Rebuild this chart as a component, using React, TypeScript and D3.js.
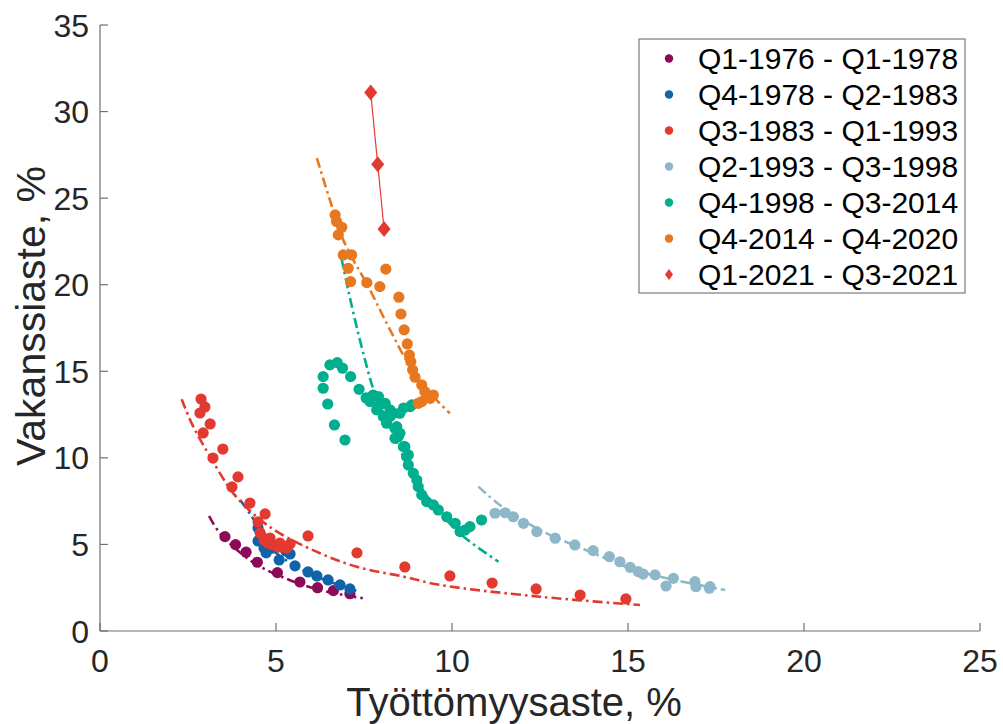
import React from "react";
import * as d3 from "d3";

type P = [number, number];

// ---- Data (unemployment %, vacancy rate %) ----
const s1976: P[] = [
  [3.55, 5.45], [3.85, 4.99], [4.15, 4.55], [4.47, 3.97], [5.04, 3.37],
  [5.68, 2.83], [6.18, 2.5], [6.63, 2.33], [7.1, 2.15],
];
const fit1976: P[] = [[3.1, 6.64], [3.41, 5.64], [4.36, 3.95], [5.3, 3.02], [6.25, 2.37], [7.48, 1.89]];

const s1978: P[] = [
  [4.49, 5.95], [4.6, 5.43], [4.49, 5.2], [4.66, 4.79], [4.72, 4.51], [4.89, 4.79],
  [5.09, 4.1], [5.28, 4.62], [5.4, 4.45], [5.54, 3.76], [5.91, 3.41], [6.16, 3.18],
  [6.48, 2.95], [6.82, 2.66], [7.1, 2.43],
];
const fit1978: P[] = [[3.98, 7.57], [4.32, 6.59], [4.77, 4.97], [5.4, 3.93], [6.25, 3.06], [7.3, 2.31]];

const s1983: P[] = [
  [4.55, 5.66], [4.66, 5.26], [4.77, 5.08], [4.91, 4.97], [5.06, 4.85], [5.2, 4.85],
  [5.31, 4.79], [5.4, 5.03], [5.11, 5.08], [4.83, 5.37], [4.49, 6.3], [4.69, 6.76],
  [4.26, 7.39], [3.75, 8.32], [3.92, 8.9], [3.21, 9.99], [3.49, 10.51], [2.93, 11.44],
  [3.13, 11.96], [2.84, 12.59], [2.98, 12.94], [2.87, 13.4], [5.91, 5.49], [7.3, 4.51],
  [8.66, 3.7], [9.94, 3.18], [11.14, 2.77], [12.39, 2.43], [13.64, 2.08], [14.94, 1.85],
];
const fit1983: P[] = [
  [2.32, 13.39], [2.65, 11.8], [3.13, 10.07], [3.79, 7.95], [4.45, 6.6], [5.11, 5.64],
  [6.25, 4.49], [7.29, 3.71], [8.62, 3.14], [9.66, 2.66], [12.5, 1.98], [15.34, 1.5],
];

const s1993: P[] = [
  [11.22, 6.8], [11.51, 6.83], [11.74, 6.6], [12.03, 6.22], [12.41, 5.74], [12.93, 5.36],
  [13.49, 4.97], [14.01, 4.64], [14.47, 4.29], [14.77, 4.0], [15.06, 3.68], [15.29, 3.43],
  [15.43, 3.29], [15.77, 3.24], [16.08, 2.6], [16.29, 3.04], [16.9, 2.85], [16.93, 2.56],
  [17.33, 2.56], [17.31, 2.47],
];
const fit1993: P[] = [[10.75, 8.34], [11.36, 7.28], [12.5, 5.83], [13.92, 4.58], [15.34, 3.43], [17.76, 2.37]];

const s1998: P[] = [
  [6.53, 15.37], [6.74, 15.5], [6.89, 15.18], [7.12, 14.69], [7.36, 13.96], [6.34, 14.69],
  [6.34, 14.02], [6.47, 13.11], [6.66, 11.9], [6.96, 11.03],
  [7.67, 13.25], [7.91, 13.54], [7.86, 12.77], [8.05, 12.38], [8.33, 12.58], [8.62, 12.87],
  [8.86, 13.06], [8.14, 12.0], [8.38, 11.71], [8.47, 11.22], [8.66, 10.65], [8.76, 10.17],
  [8.1, 13.15], [8.24, 12.38], [8.43, 11.8], [8.52, 11.42], [8.38, 11.13], [8.62, 10.65],
  [8.71, 10.07], [8.76, 9.59], [8.9, 9.11], [9.0, 8.72], [9.04, 8.34], [9.14, 7.86],
  [9.28, 7.47], [9.47, 7.28], [9.61, 6.99], [9.85, 6.6], [10.09, 6.22], [10.23, 5.74],
  [10.37, 5.83], [10.51, 6.03], [10.84, 6.41], [8.52, 12.58], [8.81, 12.96],
  [7.76, 13.63], [7.56, 13.46], [7.95, 13.06], [8.24, 12.77],
];
const fit1998: P[] = [
  [6.86, 21.53], [7.05, 19.7], [7.29, 17.58], [7.58, 15.27], [7.76, 14.02], [8.3, 11.5],
  [8.81, 9.3], [9.4, 7.5], [9.94, 6.2], [10.42, 5.3], [11.32, 4.0],
];

const s2014: P[] = [
  [6.68, 24.03], [6.72, 23.65], [6.87, 23.32], [6.77, 22.88], [6.91, 21.72], [7.15, 21.72],
  [7.05, 20.95], [7.12, 20.18], [7.58, 20.12], [7.95, 19.89], [8.12, 20.9], [8.49, 19.28],
  [8.55, 18.31], [8.64, 17.39], [8.73, 16.58], [8.79, 15.94], [8.83, 15.56], [8.88, 15.08],
  [8.95, 14.66], [9.14, 14.21], [9.23, 13.82], [9.47, 13.63], [9.38, 13.44], [9.14, 13.25],
  [9.04, 13.15],
];
const fit2014: P[] = [
  [6.16, 27.31], [6.53, 24.9], [6.91, 22.59], [7.67, 19.7], [8.24, 17.39], [8.81, 15.27],
  [9.38, 13.73], [9.94, 12.57],
];

const s2021: P[] = [[7.69, 31.1], [7.89, 26.96], [8.07, 23.22]];

const seriesNames = [
  "Q1-1976 - Q1-1978",
  "Q4-1978 - Q2-1983",
  "Q3-1983 - Q1-1993",
  "Q2-1993 - Q3-1998",
  "Q4-1998 - Q3-2014",
  "Q4-2014 - Q4-2020",
  "Q1-2021 - Q3-2021",
];
const seriesColors = ["#8C0B58", "#0E63A9", "#E23A30", "#8EB8C9", "#00AF8D", "#E8781F", "#E23A30"];

const xTicks = [0, 5, 10, 15, 20, 25];
const yTicks = [0, 5, 10, 15, 20, 25, 30, 35];

const scatterSets = [s1976, s1978, s1983, s1993, s1998, s2014];
const fitSets = [fit1976, fit1978, fit1983, fit1993, fit1998, fit2014];

export default function App() {
  const W = 1003;
  const H = 724;
  const x = d3.scaleLinear().domain([0, 25]).range([100, 980]);
  const y = d3.scaleLinear().domain([0, 35]).range([631, 25]);
  const line = d3
    .line<P>()
    .x((d) => x(d[0]))
    .y((d) => y(d[1]))
    .curve(d3.curveCatmullRom.alpha(0.5));
  const straight = d3
    .line<P>()
    .x((d) => x(d[0]))
    .y((d) => y(d[1]));
  const font = "'Liberation Sans', Arial, Helvetica, sans-serif";
  const axisColor = "#707070";
  const textColor = "#262626";
  const diamond = (cx: number, cy: number, w: number, h: number) =>
    `M${cx},${cy - h}L${cx + w},${cy}L${cx},${cy + h}L${cx - w},${cy}Z`;

  return (
    <svg
      width={W}
      height={H}
      style={{ position: "absolute", left: 0, top: 0, background: "#fff" }}
      fontFamily={font}
    >
      {scatterSets.map((pts, i) => (
        <g key={i}>
          {pts.map((d, j) => (
            <circle key={j} cx={x(d[0])} cy={y(d[1])} r={5.6} fill={seriesColors[i]} />
          ))}
          <path
            d={line(fitSets[i]) || ""}
            fill="none"
            stroke={seriesColors[i]}
            strokeWidth={2.6}
            strokeDasharray="10 4 2.5 4"
          />
        </g>
      ))}
      <path d={straight(s2021) || ""} fill="none" stroke={seriesColors[6]} strokeWidth={1.2} />
      {s2021.map((d, j) => (
        <path key={j} d={diamond(x(d[0]), y(d[1]), 6.5, 8)} fill={seriesColors[6]} />
      ))}

      {/* axes */}
      <line x1={x(0)} x2={x(25)} y1={y(0)} y2={y(0)} stroke={axisColor} strokeWidth={1.2} />
      <line x1={x(0)} x2={x(0)} y1={y(0)} y2={y(35)} stroke={axisColor} strokeWidth={1.2} />
      {xTicks.map((t) => (
        <g key={"x" + t}>
          <line x1={x(t)} x2={x(t)} y1={y(0)} y2={y(0) - 8} stroke={axisColor} strokeWidth={1.2} />
          <text x={x(t)} y={672} textAnchor="middle" fontSize={32} fill={textColor}>
            {t}
          </text>
        </g>
      ))}
      {yTicks.map((t) => (
        <g key={"y" + t}>
          <line x1={x(0)} x2={x(0) + 8} y1={y(t)} y2={y(t)} stroke={axisColor} strokeWidth={1.2} />
          <text x={89} y={y(t)} dy="0.36em" textAnchor="end" fontSize={32} fill={textColor}>
            {t}
          </text>
        </g>
      ))}
      <text x={514} y={716} textAnchor="middle" fontSize={40} fill={textColor}>
        Työttömyysaste, %
      </text>
      <text
        transform={`translate(45,${316}) rotate(-90)`}
        textAnchor="middle"
        fontSize={41}
        fill={textColor}
      >
        Vakanssiaste, %
      </text>

      {/* legend */}
      <rect x={639} y={39} width={326} height={254} fill="#fff" stroke="#7a7a7a" strokeWidth={1.2} />
      {seriesNames.map((name, i) => {
        const cy = 58.5 + i * 36;
        return (
          <g key={name}>
            {i < 6 ? (
              <circle cx={669} cy={cy} r={4.2} fill={seriesColors[i]} />
            ) : (
              <path d={diamond(669, cy, 4, 5.5)} fill={seriesColors[i]} />
            )}
            <text x={698} y={cy} dy="0.36em" fontSize={30} fill="#000">
              {name}
            </text>
          </g>
        );
      })}
    </svg>
  );
}
